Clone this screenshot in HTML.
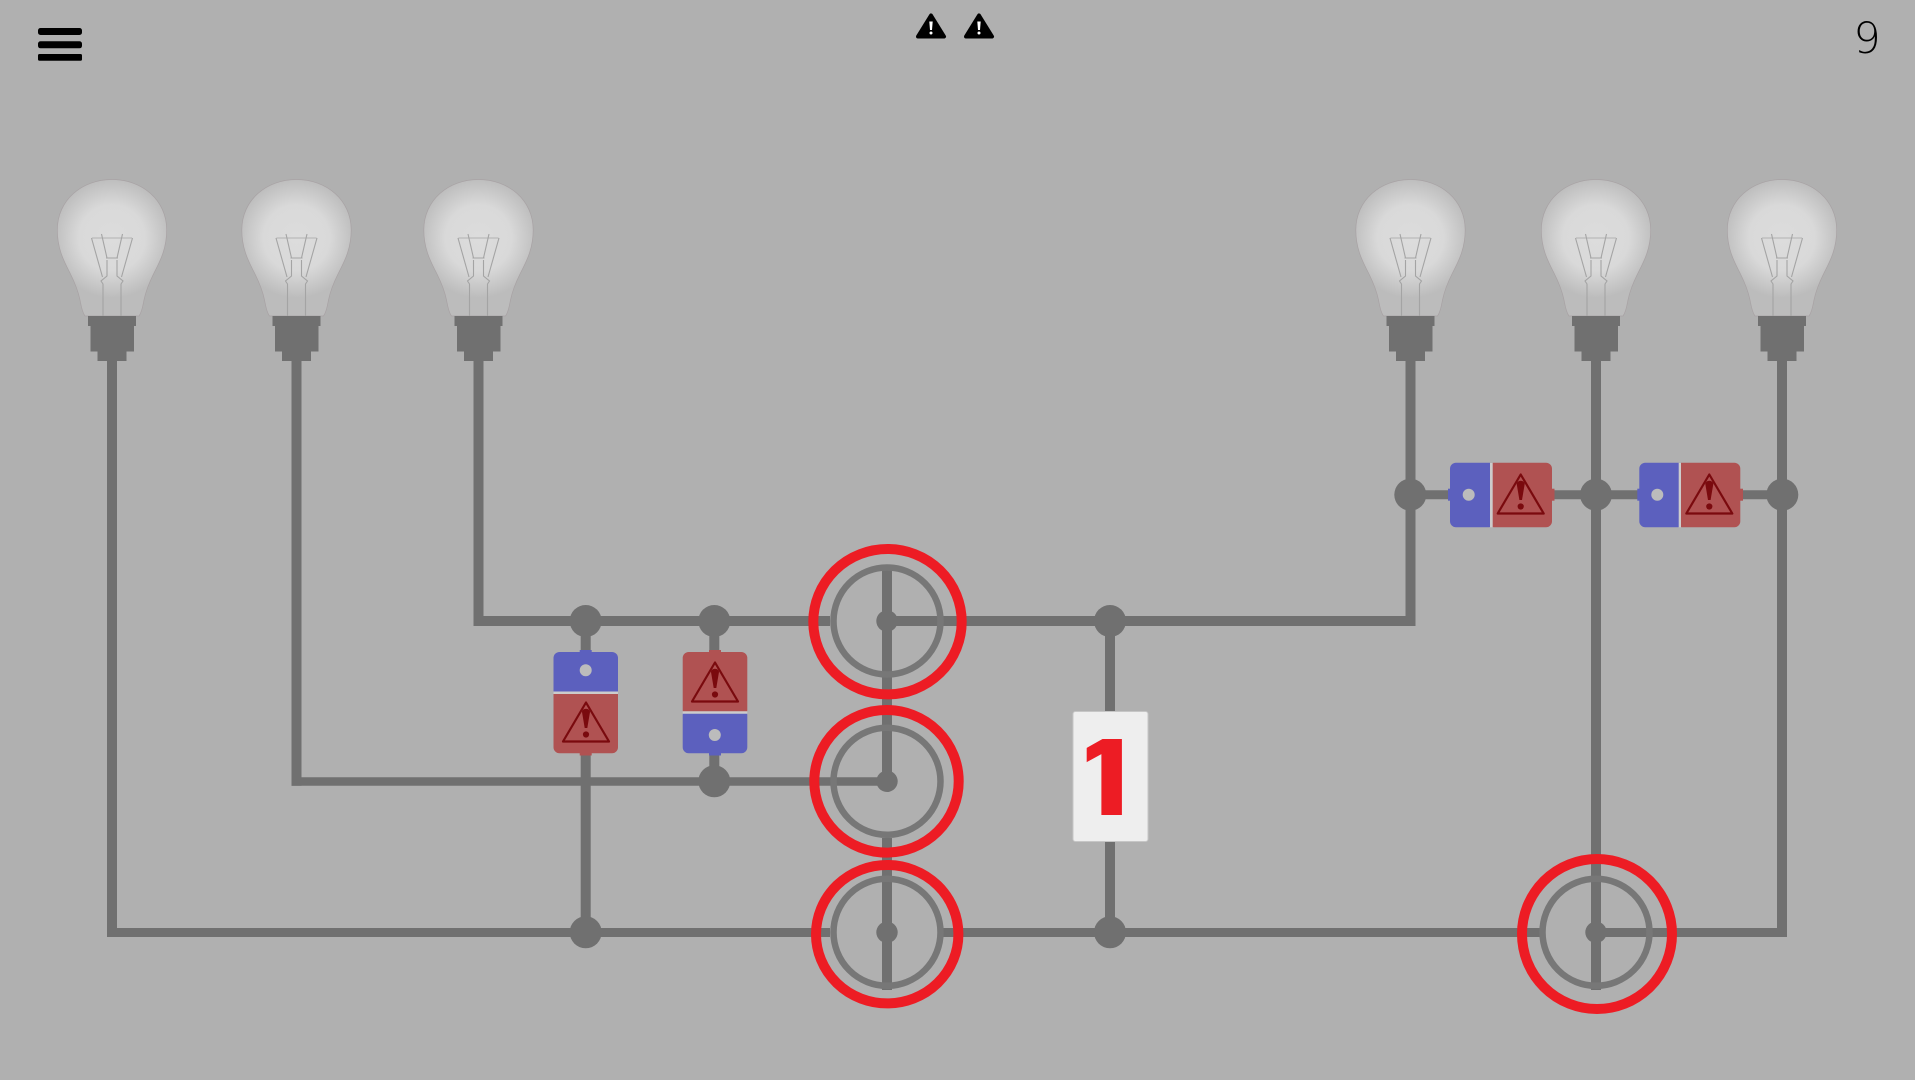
<!DOCTYPE html>
<html>
<head>
<meta charset="utf-8">
<style>
html,body{margin:0;padding:0;background:#b0b0b0;width:1915px;height:1080px;overflow:hidden}
svg{display:block}
</style>
</head>
<body>
<svg width="1915" height="1080" viewBox="0 0 1915 1080" xmlns="http://www.w3.org/2000/svg">
<defs>
<clipPath id="c1"><rect x="1086.700" y="730" width="50" height="85"/></clipPath>
<radialGradient id="g" gradientUnits="userSpaceOnUse" cx="0" cy="238" r="60">
<stop offset="0" stop-color="#dcdcdc"/><stop offset="0.55" stop-color="#d9d9d9"/><stop offset="1" stop-color="#bcbcbc"/>
</radialGradient>
<symbol id="b" x="-70" y="170" width="140" height="200" viewBox="-70 170 140 200" overflow="visible">
<path d="M-27 316C-30 312-31 305-32 300C-34 290-38 281-42 273C-47 263-54.700 250-54.700 230C-54.700 200-30 179.500 0 179.500C30 179.500 54.700 200 54.700 230C54.700 250 47 263 42 273C38 281 34 290 32 300C31 305 30 312 27 316Z" fill="url(#g)" stroke="#a8a2a4" stroke-width=".7"/>
<g fill="none" stroke="#a4a4a4" stroke-width="1.100">
<path d="M-9 316V284L-11 281L-5 276V260M9 316V284L11 281L5 276V260M-6 258H6"/>
<path d="M-9.500 277L-20.500 238M-5 258L-10.500 234M9.500 277L20.500 238M5 258L10.500 234"/>
<path d="M-20 238L-10 238L10 238L20 238" stroke-width=".7"/>
</g>
<path d="M-24 316H24V326H22V351.500H14.500V361H-14.500V351.500H-21.500V326H-24Z" fill="#707070"/>
</symbol>
<symbol id="t" x="-30" y="-5" width="60" height="50" viewBox="-30 -5 60 50" overflow="visible">
<path d="M0 1L23 40H-23Z" fill="none" stroke="#7a0a0e" stroke-width="2.200" stroke-linejoin="round"/>
<path d="M-4 10.500A4 3.200 0 0 1 4 10.500L1.300 26.500H-1.300Z" fill="#7a0a0e"/>
<circle cx="0" cy="33" r="3.100" fill="#7a0a0e"/>
</symbol>
<symbol id="w" x="-18" y="0" width="36" height="30" viewBox="-18 0 36 30" overflow="visible">
<path d="M0 3L13 24H-13Z" fill="#000" stroke="#000" stroke-width="4" stroke-linejoin="round"/>
<path d="M-1.700 9H1.700L1 17.500H-1Z" fill="#fff"/><circle cx="0" cy="20.500" r="1.500" fill="#fff"/>
</symbol>
</defs>

<rect width="1915" height="1080" fill="#b0b0b0"/>

<rect x="38" y="28" width="44" height="7" rx="2.500" fill="#000"/>
<rect x="38" y="41.300" width="44" height="7" rx="2.500" fill="#000"/>
<rect x="38" y="54" width="44" height="6.700" rx="1.500" fill="#000"/>
<use href="#w" x="931" y="12.500"/>
<use href="#w" x="979" y="12.500"/>
<text x="1867" y="53" font-family="'DejaVu Sans','Liberation Sans',sans-serif" font-size="43" font-weight="200" text-anchor="middle" fill="#000">9</text>

<g fill="none" stroke="#707070" stroke-width="10">
<path d="M112 355V932.500" />
<path d="M1782 355V937"/>
<path d="M107 932.500H830M943 932.500H1540M1596 932.500H1787" stroke-width="9"/>
<path d="M296.500 355V785.700"/>
<path d="M291.500 781.500H887" stroke-width="8.400"/>
<path d="M478.500 355V626"/>
<path d="M473.500 621H830"/>
<path d="M887 621H1415.500"/>
<path d="M1410.500 355V626"/>
<path d="M585.700 621V932M714.300 621V781"/>
<path d="M1110 621V932"/>
<path d="M1596 355V990"/>
<path d="M1410 494.700H1782" stroke-width="9"/>
<path d="M887 565V781M887 838V990"/>
</g>
<g fill="#707070">
<circle cx="585.700" cy="621" r="16"/><circle cx="714.300" cy="621" r="16"/><circle cx="1110" cy="621" r="16"/>
<circle cx="714.300" cy="781.300" r="16"/><circle cx="585.700" cy="932.300" r="16"/><circle cx="1110" cy="932.300" r="16"/>
<circle cx="1410.300" cy="494.700" r="16"/><circle cx="1596" cy="494.700" r="16"/><circle cx="1782.300" cy="494.700" r="16"/>
<circle cx="887" cy="621" r="10.700"/><circle cx="887" cy="781.300" r="10.700"/><circle cx="887" cy="932.300" r="10.700"/><circle cx="1596" cy="932.300" r="10.700"/>
</g>
<g fill="none" stroke="#777" stroke-width="6.500">
<circle cx="887" cy="621" r="53.500"/><circle cx="887" cy="781.300" r="53.500"/><circle cx="887" cy="932.300" r="53.500"/><circle cx="1596" cy="932.300" r="53.500"/>
</g>
<g fill="none" stroke="#ed1c24" stroke-width="10">
<ellipse cx="887.500" cy="621.700" rx="74.200" ry="72.700"/>
<ellipse cx="886.500" cy="781.300" rx="72.200" ry="71.300"/>
<ellipse cx="887.200" cy="934.200" rx="71.200" ry="69.200"/>
<circle cx="1597" cy="934" r="75"/>
</g>

<use href="#b" x="112" y="0"/>
<use href="#b" x="296.500" y="0"/>
<use href="#b" x="478.500" y="0"/>
<use href="#b" x="1410.500" y="0"/>
<use href="#b" x="1596" y="0"/>
<use href="#b" x="1782" y="0"/>

<!-- vertical component 1 -->
<rect x="579.700" y="650" width="12" height="3" fill="#5c60be"/>
<rect x="579.700" y="752.500" width="12" height="3" fill="#b05252"/>
<rect x="553.500" y="690" width="64.500" height="5" fill="#cccccc"/>
<path d="M553.500 691.500V658a6 6 0 0 1 6-6H612a6 6 0 0 1 6 6V691.500Z" fill="#5c60be"/>
<path d="M553.500 694V747.300a6 6 0 0 0 6 6H612a6 6 0 0 0 6-6V694Z" fill="#b05252"/>
<circle cx="585.700" cy="670.300" r="6" fill="#bcbcbc"/>
<use href="#t" x="586" y="701.500"/>

<!-- vertical component 2 -->
<rect x="709" y="650" width="12" height="3" fill="#b05252"/>
<rect x="709" y="752.500" width="12" height="3" fill="#5c60be"/>
<rect x="682.700" y="710" width="64.600" height="5" fill="#cccccc"/>
<path d="M682.700 711.300V658a6 6 0 0 1 6-6H741.300a6 6 0 0 1 6 6V711.300Z" fill="#b05252"/>
<path d="M682.700 713.700V747.300a6 6 0 0 0 6 6H741.300a6 6 0 0 0 6-6V713.700Z" fill="#5c60be"/>
<circle cx="714.800" cy="735" r="6" fill="#bcbcbc"/>
<use href="#t" x="715" y="661.500"/>

<!-- horizontal component 1 -->
<rect x="1448" y="488.700" width="3" height="12" fill="#5c60be"/>
<rect x="1551.500" y="488.700" width="3" height="12" fill="#b05252"/>
<rect x="1489" y="463" width="5" height="64.300" fill="#cccccc"/>
<path d="M1490 462.700H1456a6 6 0 0 0-6 6V521.300a6 6 0 0 0 6 6H1490Z" fill="#5c60be"/>
<path d="M1492.700 462.700H1546a6 6 0 0 1 6 6V521.300a6 6 0 0 1-6 6H1492.700Z" fill="#b05252"/>
<circle cx="1468.700" cy="494.700" r="6" fill="#bcbcbc"/>
<use href="#t" x="1520.700" y="473.500"/>

<!-- horizontal component 2 -->
<rect x="1637.300" y="488.700" width="3" height="12" fill="#5c60be"/>
<rect x="1740" y="488.700" width="3" height="12" fill="#b05252"/>
<rect x="1678" y="463" width="4" height="64.300" fill="#cccccc"/>
<path d="M1678.700 462.700H1645.300a6 6 0 0 0-6 6V521.300a6 6 0 0 0 6 6H1678.700Z" fill="#5c60be"/>
<path d="M1681 462.700H1734.300a6 6 0 0 1 6 6V521.300a6 6 0 0 1-6 6H1681Z" fill="#b05252"/>
<circle cx="1657.300" cy="494.700" r="6" fill="#bcbcbc"/>
<use href="#t" x="1709.300" y="473.500"/>

<!-- counter -->
<rect x="1073" y="711.500" width="75" height="130" rx="2.500" fill="#eeeeee" stroke="#c6c6c6" stroke-width="1"/>
<g clip-path="url(#c1)">
<text transform="translate(1066.500,828.400) scale(1.150,1)" font-family="'Liberation Sans',sans-serif" font-size="130" font-weight="700" fill="#ed1c24">1</text>
</g>
</svg>
</body>
</html>
